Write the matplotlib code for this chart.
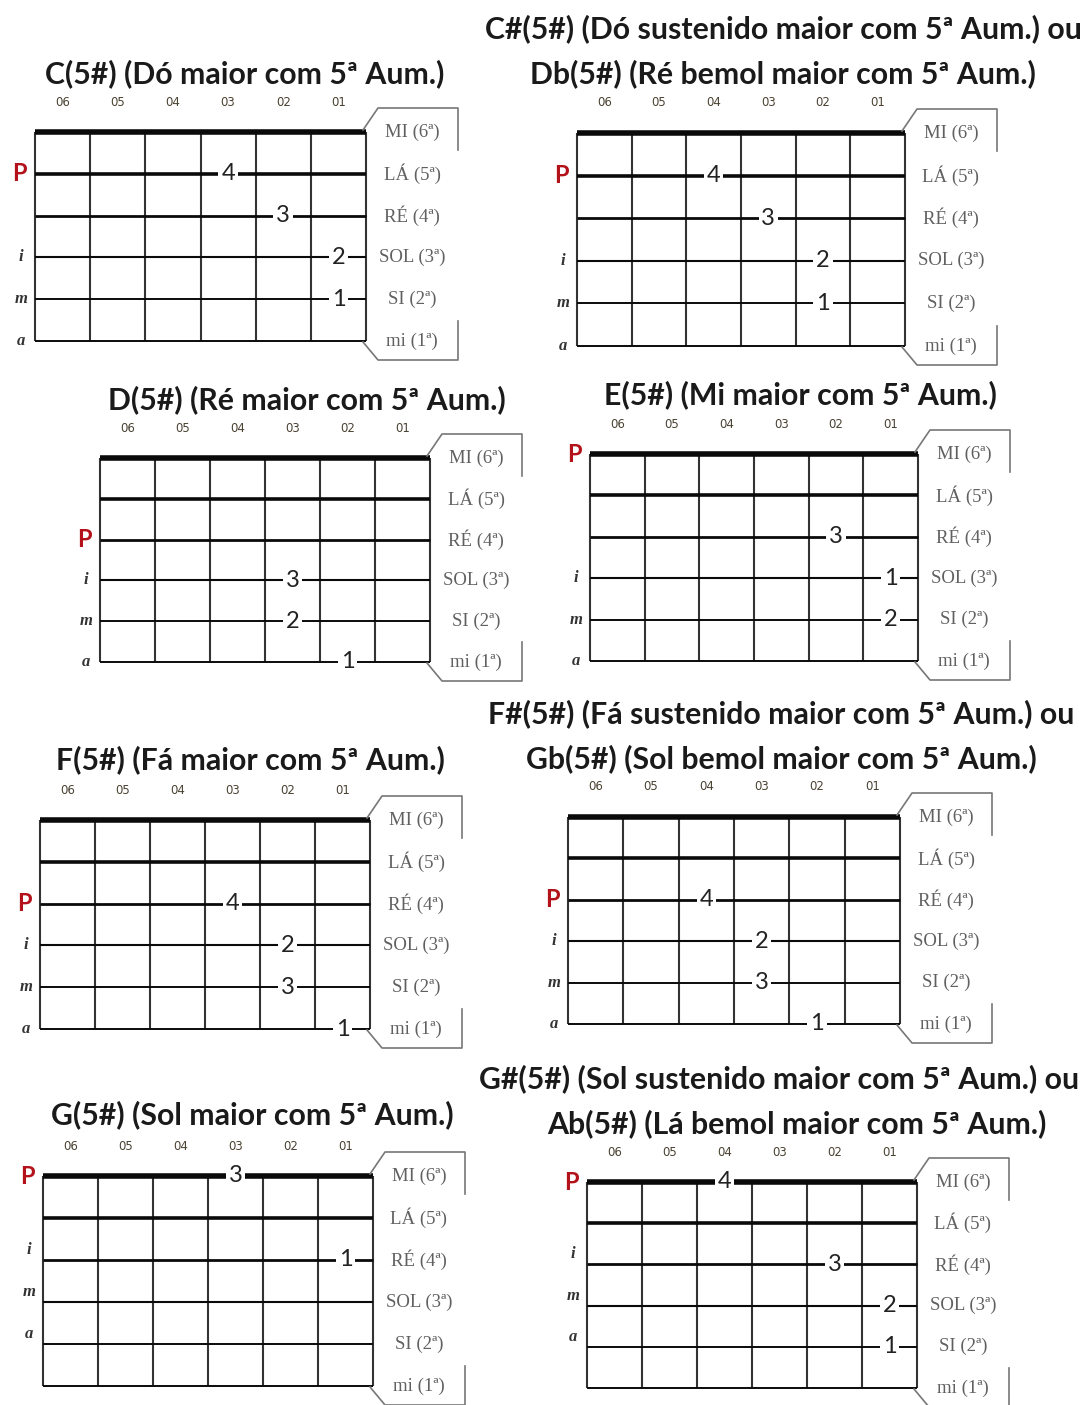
import matplotlib
matplotlib.use('Agg')
import matplotlib.pyplot as plt

# string names (top = 6th string) and fret columns
string_names = ['MI (6ª)', 'LÁ (5ª)', 'RÉ (4ª)', 'SOL (3ª)', 'SI (2ª)', 'mi (1ª)']
fret_labels = ['06', '05', '04', '03', '02', '01']

titles = [
    ['C(5#) (Dó maior com 5ª Aum.)'],
    ['C#(5#) (Dó sustenido maior com 5ª Aum.) ou', 'Db(5#) (Ré bemol maior com 5ª Aum.)'],
    ['D(5#) (Ré maior com 5ª Aum.)'],
    ['E(5#) (Mi maior com 5ª Aum.)'],
    ['F(5#) (Fá maior com 5ª Aum.)'],
    ['F#(5#) (Fá sustenido maior com 5ª Aum.) ou', 'Gb(5#) (Sol bemol maior com 5ª Aum.)'],
    ['G(5#) (Sol maior com 5ª Aum.)'],
    ['G#(5#) (Sol sustenido maior com 5ª Aum.) ou', 'Ab(5#) (Lá bemol maior com 5ª Aum.)'],
]

# left hand: finger number, string index (0 = MI 6ª), fret column
fingers = [[4, 3, 2, 1], [4, 3, 2, 1], [3, 2, 1], [3, 1, 2],
           [4, 2, 3, 1], [4, 2, 3, 1], [3, 1], [4, 3, 2, 1]]
finger_strings = [[1, 2, 3, 4], [1, 2, 3, 4], [3, 4, 5], [2, 3, 4],
                  [2, 3, 4, 5], [2, 3, 4, 5], [0, 2], [0, 2, 3, 4]]
finger_frets = [['03', '02', '01', '01'], ['04', '03', '02', '02'],
                ['03', '03', '02'], ['02', '01', '01'],
                ['03', '02', '02', '01'], ['04', '03', '03', '02'],
                ['03', '01'], ['04', '02', '01', '01']]

# right hand: P, i, m, a on these strings
p_string = [1, 1, 2, 0, 2, 2, 0, 0]
ima_strings = [[3, 4, 5], [3, 4, 5], [3, 4, 5], [3, 4, 5],
               [3, 4, 5], [3, 4, 5], [2, 3, 4], [2, 3, 4]]
ima_labels = ['i', 'm', 'a']

# layout: grid left, grid right, top string y, bottom string y, title y's, title x's
layout = [
    (35, 366, 132, 341, [74], [245]),
    (577, 905, 133, 346, [29, 74], [783, 783]),
    (100, 430, 458, 662, [400], [307]),
    (590, 918, 454, 661, [395], [800]),
    (40, 370, 820, 1029, [760], [250]),
    (568, 900, 817, 1024, [714, 759], [781, 781]),
    (43, 373, 1176, 1386, [1115], [252]),
    (587, 917, 1182, 1388, [1079, 1124], [779, 797]),
]
ima_shift = [0, 0, 0, 0, 0, 0, -10, -10]

string_lw = [4.0, 2.6, 2.0, 1.5, 1.4, 1.4]

fig = plt.figure(figsize=(10.86, 14.05), dpi=100)
ax = fig.add_axes([0, 0, 1, 1])
ax.set_xlim(0, 1086)
ax.set_ylim(1405, 0)
ax.axis('off')

for k in range(8):
    x0, x1, y0, y1, ty, tx = layout[k]
    cw = (x1 - x0) / 6.0
    rh = (y1 - y0) / 5.0
    ys = [y0 + i * rh for i in range(6)]

    # title
    for line, yy, xx in zip(titles[k], ty, tx):
        ax.text(xx, yy, line, ha='center', va='center', fontsize=21.8,
                family='Lato', weight='bold', color='#1a1a1a')
    # fret column labels
    for j, fl in enumerate(fret_labels):
        ax.text(x0 + (j + 0.5) * cw, y0 - 30, fl, ha='center', va='center',
                fontsize=8.5, family='DejaVu Sans', color='#4a4232')
    # vertical lines
    for j in range(7):
        ax.plot([x0 + j * cw, x0 + j * cw], [y0, y1], color='#333333', lw=1.5,
                solid_capstyle='butt')
    # strings
    for i in range(6):
        ax.plot([x0, x1], [ys[i], ys[i]], color='#0a0a0a', lw=string_lw[i],
                solid_capstyle='butt')
        ax.text(x1 + 46, ys[i], string_names[i], ha='center', va='center',
                fontsize=13.5, family='Liberation Serif', color='#606060')
    # side box
    bx = [x1 + 92, x1 + 92, x1 + 12, x1 - 3]
    by = [y0 + 18, y0 - 24, y0 - 24, y0 - 2]
    ax.plot(bx, by, color='#777777', lw=1.2)
    bx = [x1 + 92, x1 + 92, x1 + 12, x1 - 3]
    by = [y1 - 20, y1 + 19, y1 + 19, y1 + 1]
    ax.plot(bx, by, color='#777777', lw=1.2)

    # finger numbers
    for f, s, fr in zip(fingers[k], finger_strings[k], finger_frets[k]):
        j = fret_labels.index(fr)
        ax.text(x0 + (j + 0.5) * cw, ys[s], str(f), ha='center', va='center',
                fontsize=17, family='Lato', color='#222222',
                bbox=dict(boxstyle='square,pad=0.12', fc='white', ec='none'))

    # right hand
    ax.text(x0 - 16, ys[p_string[k]], 'P', ha='center', va='center',
            fontsize=17, family='Lato', weight='bold', color='#b3121b')
    for lab, s in zip(ima_labels, ima_strings[k]):
        ax.text(x0 - 14, ys[s] + ima_shift[k], lab, ha='center', va='center',
                fontsize=12, family='Liberation Serif', style='italic',
                weight='bold', color='#333333')

fig.savefig('out.png', dpi=100)
